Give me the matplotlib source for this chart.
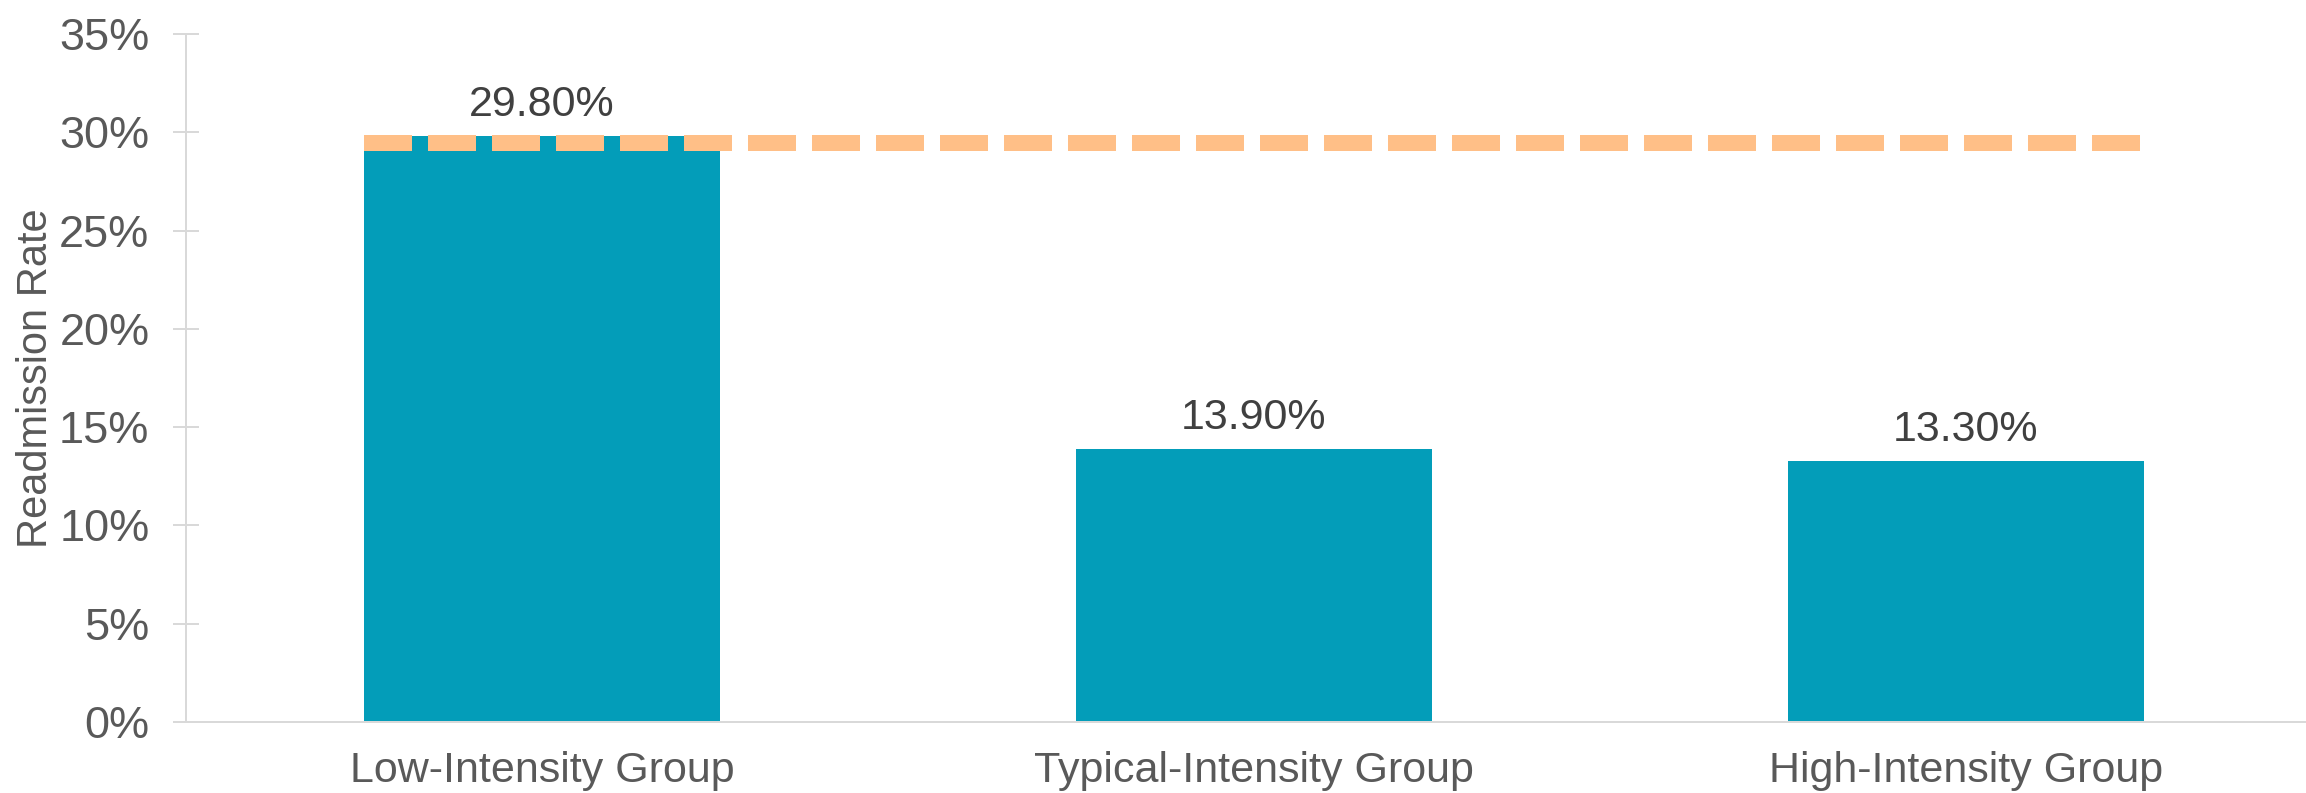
import matplotlib
matplotlib.use("Agg")
import matplotlib.pyplot as plt
from matplotlib.ticker import FuncFormatter

# data
groups = ["Low-Intensity Group", "Typical-Intensity Group", "High-Intensity Group"]
rates = [29.8, 13.9, 13.3]
rate_labels = ["29.80%", "13.90%", "13.30%"]
y_ticks = [0, 5, 10, 15, 20, 25, 30, 35]
ref_rate = 29.45

BAR_COLOR = "#039DB9"
REF_COLOR = "#FFBF87"
GRID_GRAY = "#D9D9D9"
TICK_GRAY = "#595959"
LABEL_DARK = "#404040"

plt.rcParams["font.family"] = ["Liberation Sans", "DejaVu Sans"]

W, H, DPI = 2306, 793, 100
fig = plt.figure(figsize=(W / DPI, H / DPI), dpi=DPI)
# axes box in pixels: left 186, bottom 722, top 34
left, right, top, bottom = 186, 2306, 34, 722
ax = fig.add_axes([left / W, 1 - bottom / H, (right - left) / W, (bottom - top) / H])

x = range(len(groups))
ax.bar(x, rates, width=0.5, color=BAR_COLOR, zorder=2)

# dashed reference line, from left edge of first bar to right edge of last
ax.hlines(ref_rate, -0.25, 2.25, colors=REF_COLOR, linewidth=16 * 72 / DPI,
          linestyles=(0, (3, 1)), zorder=3, capstyle="butt")

for xi, v, lab in zip(x, rates, rate_labels):
    ax.annotate(lab, (xi, v), xytext=(0, 20 * 72 / DPI), textcoords="offset points",
                ha="center", va="baseline", fontsize=31, color=LABEL_DARK, zorder=4)

ax.set_xlim(-0.5, 2.5 - 16 / 712)
ax.set_ylim(0, 35)
ax.set_yticks(y_ticks)
ax.yaxis.set_major_formatter(FuncFormatter(lambda v, p: f"{v:.0f}%"))
ax.set_xticks(list(x))
ax.set_xticklabels(groups)

for s in ["top", "right"]:
    ax.spines[s].set_visible(False)
for s in ["left", "bottom"]:
    ax.spines[s].set_color(GRID_GRAY)
    ax.spines[s].set_linewidth(2 * 72 / DPI)

ax.tick_params(axis="y", direction="inout", length=26 * 72 / DPI, width=2 * 72 / DPI,
               color=GRID_GRAY, labelsize=32.5, labelcolor=TICK_GRAY, pad=17)
ax.tick_params(axis="x", length=0, labelsize=31, labelcolor=TICK_GRAY, pad=21)

ax.set_ylabel("Readmission Rate", fontsize=30, color=TICK_GRAY, labelpad=2)

fig.savefig("out.png", dpi=DPI)
